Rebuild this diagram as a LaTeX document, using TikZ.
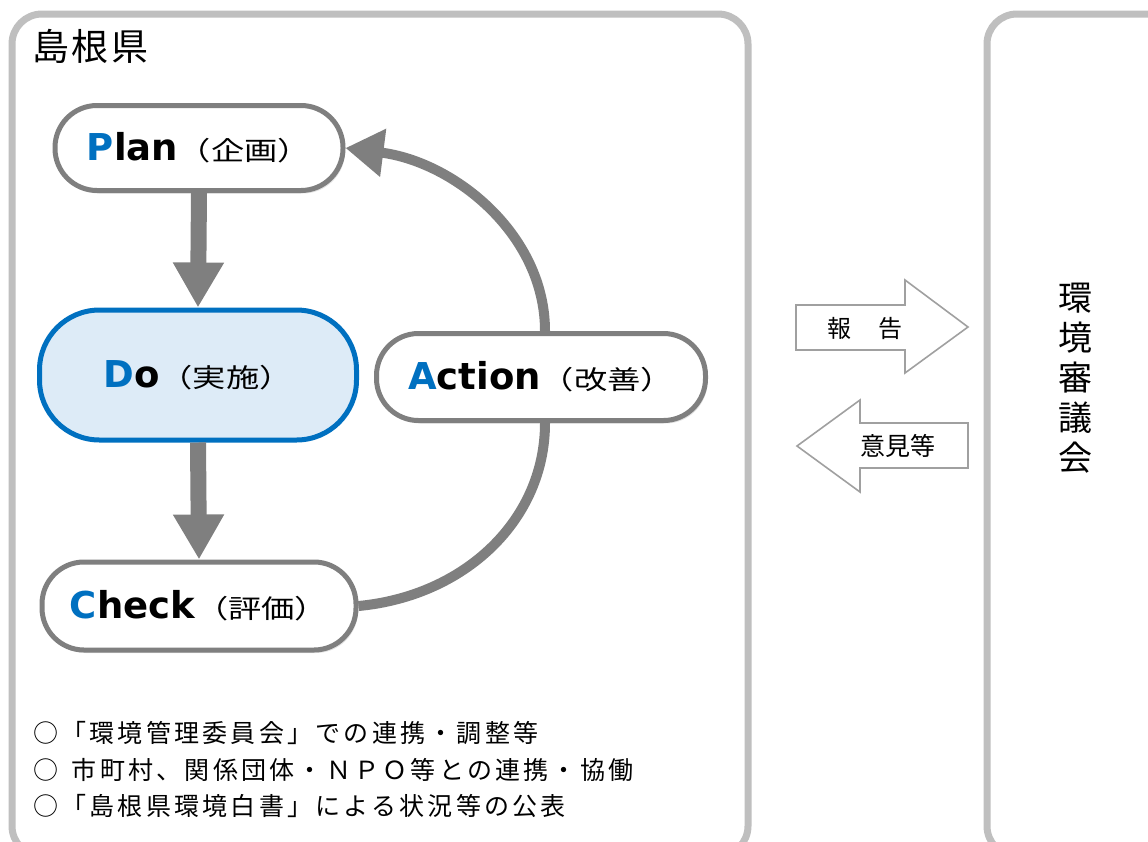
\documentclass[tikz,border=0pt]{standalone}
\usepackage{fontspec}
\setmainfont{Noto Sans CJK JP}
\newfontfamily\latb{DejaVu Sans}
\usetikzlibrary{arrows.meta,shadows}
\definecolor{pblue}{HTML}{0070C0}
\definecolor{agray}{HTML}{7F7F7F}
\definecolor{pgray}{HTML}{BFBFBF}
\definecolor{dofill}{HTML}{DDEBF7}
\definecolor{cgray}{HTML}{A0A0A0}
\newcommand\lbl[3]{{\fontsize{37}{37}\selectfont\latb\bfseries\textcolor{pblue}{#1}#2}{\fontsize{26}{26}\selectfont\scalebox{1.28}[1]{#3}}}
\begin{document}
\begin{tikzpicture}[x=1pt,y=-1pt,
  panel/.style={draw=pgray,line width=7pt,rounded corners=30pt},
  pill/.style={draw=agray,line width=5pt,fill=white,rounded corners=#1,inner sep=0pt,
    drop shadow={opacity=0.22,shadow xshift=2pt,shadow yshift=-3pt}},
  pill/.default=42pt,
  bigarrow/.style={draw=agray,line width=16pt,-{Triangle[width=48pt,length=45pt]}},
  curvearrow/.style={draw=agray,line width=10pt},
  callout/.style={draw=cgray,line width=1.6pt,fill=white,line join=miter},
  bullet/.style={anchor=west,inner sep=0pt,font=\fontsize{25}{25}\selectfont}
]
\useasboundingbox (0,0) rectangle (1148,841);
% panels
\draw[panel] (12,14) rectangle (748,856);
\draw[panel] (987,14) rectangle (1180,856);
\node[anchor=west,inner sep=0pt,font=\fontsize{37}{37}\selectfont] (pref) at (32,46) {\addfontfeature{LetterSpace=7}島根県};
% nodes
\node[pill,minimum width=288pt,minimum height=85pt] (plan) at (199,148) {\lbl{P}{lan}{（企画）}};
\node[draw=pblue,line width=5pt,fill=dofill,rounded corners=60pt,inner sep=0pt,
      minimum width=317pt,minimum height=130pt] (do) at (198,375) {\lbl{D}{o}{（実施）}};
\node[pill,minimum width=329pt,minimum height=87pt] (action) at (541,377) {\lbl{A}{ction}{（改善）}};
\node[pill,minimum width=314pt,minimum height=88pt] (check) at (199,606) {\lbl{C}{heck}{（評価）}};
% arrows
\draw[bigarrow] (plan.south) -- (do.north);
\draw[bigarrow] (do.south) -- (check.north);
\draw[curvearrow,-{Triangle[width=46pt,length=38pt]}] ([xshift=4pt]action.north) .. controls (545,235) and (455,162) .. (plan.east);
\draw[curvearrow] ([xshift=4pt]action.south) .. controls (545,520) and (465,596) .. (check.east);
% callouts
\draw[callout] (796,305) -- (905,305) -- (905,280) -- (968,327) -- (905,373) -- (905,350) -- (796,350) -- cycle;
\node[font=\fontsize{24}{24}\selectfont,inner sep=0pt] (rep) at (865,328) {報\hspace{1.1em}告};
\draw[callout] (968,423) -- (860,423) -- (860,400) -- (797,446) -- (860,492) -- (860,468) -- (968,468) -- cycle;
\node[font=\fontsize{25}{25}\selectfont,inner sep=0pt] (op) at (898,446) {意見等};
% council
\node[align=center,inner sep=0pt,font=\fontsize{34}{40}\selectfont] (council) at (1075,378) {環\\境\\審\\議\\会};
% bullets
\node[bullet] (b1) at (33,733) {\addfontfeature{LetterSpace=13}○「環境管理委員会」での連携・調整等};
\node[bullet] (b2) at (33,770) {\addfontfeature{LetterSpace=13}○\hspace{0.55em}市町村、関係団体・ＮＰＯ等との連携・協働};
\node[bullet] (b3) at (33,806) {\addfontfeature{LetterSpace=13}○「島根県環境白書」による状況等の公表};
\end{tikzpicture}
\end{document}
